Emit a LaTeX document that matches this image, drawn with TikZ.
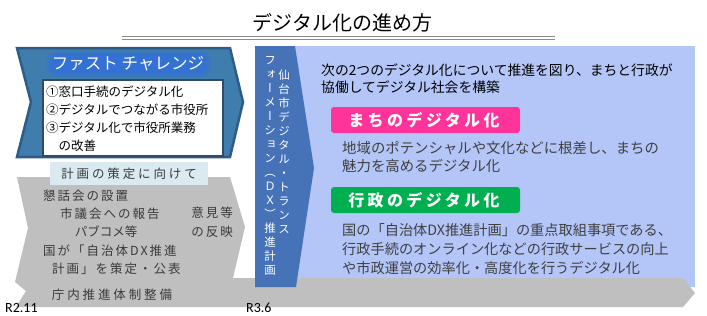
\documentclass[tikz,border=0pt]{standalone}
\usepackage{fontspec}
\setmainfont{Noto Sans CJK JP}
\newfontfamily\jpv[RawFeature=+vert]{Noto Sans CJK JP}
\newfontfamily\jpa[LetterSpace=16]{Noto Sans CJK JP}
\newfontfamily\jpb[LetterSpace=23]{Noto Sans CJK JP}
\newfontfamily\jpc[LetterSpace=21]{Noto Sans CJK JP}
\newfontfamily\latf{Carlito}
\definecolor{chevblue}{HTML}{3E7DAC}
\definecolor{chevedge}{HTML}{2E5C8A}
\definecolor{glowblue}{HTML}{2E6CF0}
\definecolor{boxedge}{HTML}{2F4A6B}
\definecolor{paleblue}{HTML}{DAEAF0}
\definecolor{arrowgray}{HTML}{BFBFBF}
\definecolor{lavender}{HTML}{B4C6F8}
\definecolor{bannerblue}{HTML}{4672B8}
\definecolor{hotpink}{HTML}{FF3399}
\definecolor{leafgreen}{HTML}{00B050}
\definecolor{txtgray}{HTML}{3A3A3A}
\definecolor{bodygray}{HTML}{404040}
\definecolor{linegray}{HTML}{8C8C8C}
\begin{document}
\begin{tikzpicture}[x=1pt,y=-1pt,
  gtxt/.style={font=\jpa\fontsize{12.5}{15}\selectfont, text=txtgray, inner sep=0pt},
  gwide/.style={font=\jpb\fontsize{12.5}{15}\selectfont, text=txtgray, inner sep=0pt},
  vtext/.style={font=\jpv\fontsize{11.5}{14}\selectfont, text=white, align=center, inner sep=0pt},
  bodytxt/.style={font=\fontsize{14.4}{18}\selectfont, text=bodygray, align=left, inner sep=0pt, anchor=west},
  labelbox/.style={rounded corners=3pt, minimum width=189pt, minimum height=26pt, inner sep=0pt},
  labeltxt/.style={font=\jpc\bfseries\fontsize{16}{18}\selectfont, text=white, inner sep=0pt},
  datetxt/.style={font=\latf\fontsize{14}{16}\selectfont, text=black, inner sep=0pt, anchor=base west},
  glowlayer/.style={fill=glowblue, opacity=0.22}
]
\useasboundingbox (0,0) rectangle (707,316);
% title
\node[font=\fontsize{20}{24}\selectfont, inner sep=0pt] (title) at (342.5,23) {デジタル化の進め方};
\coordinate (ulA) at (122,36.5); \coordinate (ulB) at (555,36.5);
\coordinate (ulC) at (122,39.5); \coordinate (ulD) at (555,39.5);
\draw[linegray, line width=1pt] (ulA) -- (ulB);
\draw[linegray, line width=1pt] (ulC) -- (ulD);
% lavender panel
\fill[lavender] (255,46) rectangle (695,287);
% gray arrows
\fill[arrowgray] (17,177) -- (230,177) -- (245,227) -- (233,278) -- (683,278)
  -- (695,293) -- (683,307) -- (16,307) -- (26,291) -- (15,282) -- (28,228) -- cycle;
% banner
\fill[bannerblue] (255,46) -- (295,46) -- (314,168) -- (296,287) -- (255,287) -- cycle;
% blue chevron
\filldraw[fill=chevblue, draw=chevedge, line width=2.5pt, line join=miter]
  (17,48) -- (230,48) -- (243,102) -- (230,157) -- (17,157) -- (31,102) -- cycle;
\filldraw[fill=white, draw=boxedge, line width=1.3pt] (43,80) rectangle (223,156);
\fill[paleblue] (50,162) rectangle (208,185);
% soft glow behind the chevron title
\fill[glowlayer, rounded corners=9pt] (46,51) rectangle (211,77);
\fill[glowlayer, rounded corners=8pt] (48,52.5) rectangle (209,75.5);
\fill[glowlayer, rounded corners=7pt] (50,54) rectangle (207,74);
\fill[glowlayer, rounded corners=6pt] (52,55.5) rectangle (205,72.5);
% chevron texts
\node[font=\fontsize{16.5}{20}\selectfont, text=white, inner sep=0pt] (fast) at (128,63.5) {ファスト チャレンジ};
\node[font=\fontsize{12.5}{18}\selectfont, align=left, inner sep=0pt, anchor=west] (list) at (46,119)
  {①窓口手続のデジタル化\\②デジタルでつながる市役所\\③デジタル化で市役所業務\\\hspace*{1em}の改善};
\node[gwide] (plan) at (129,173.5) {計画の策定に向けて};
% gray texts
\node[gtxt, anchor=west] (g1) at (43,196) {懇話会の設置};
\node[gtxt, anchor=west] (g2) at (60,214) {市議会への報告};
\node[font=\fontsize{12.5}{15}\selectfont, text=txtgray, inner sep=0pt] (g3) at (106,232) {パブコメ等};
\node[gtxt, anchor=west] (g4) at (43,251) {国が「自治体DX推進};
\node[gtxt, anchor=west] (g5) at (52,269) {計画」を策定・公表};
\node[gtxt] (g6) at (212,213) {意見等};
\node[gtxt] (g7) at (212,232) {の反映};
\node[gwide] (g8) at (112,295) {庁内推進体制整備};
% dates
\node[datetxt] (d1) at (5,312) {R2.11};
\node[datetxt] (d2) at (246,312) {R3.6};
% banner vertical text
\node[vtext] (vright) at (284,152) {仙\\台\\市\\デ\\ジ\\タ\\ル\\・\\ト\\ラ\\ン\\ス};
\node[vtext] (vleft) at (270,166) {フ\\ォ\\ー\\メ\\ー\\シ\\ョ\\ン\\（\\Ｄ\\Ｘ\\）\\推\\進\\計\\画};
% panel texts
\node[bodytxt, font=\fontsize{13.8}{17}\selectfont, text=black] (intro) at (321,78.5)
  {次の2つのデジタル化について推進を図り、まちと行政が\\協働してデジタル社会を構築};
\node[labelbox, fill=hotpink] (pinkbox) at (425.5,120) {};
\node[labeltxt] (pinktxt) at (424,120) {まちのデジタル化};
\node[bodytxt] (towntxt) at (342,157) {地域のポテンシャルや文化などに根差し、まちの\\魅力を高めるデジタル化};
\node[labelbox, fill=leafgreen] (greenbox) at (425.5,200) {};
\node[labeltxt] (greentxt) at (424,200) {行政のデジタル化};
\node[bodytxt, font=\fontsize{14.2}{19}\selectfont] (govtxt) at (342,249)
  {国の「自治体DX推進計画」の重点取組事項である、\\行政手続のオンライン化などの行政サービスの向上\\や市政運営の効率化・高度化を行うデジタル化};
\end{tikzpicture}
\end{document}
